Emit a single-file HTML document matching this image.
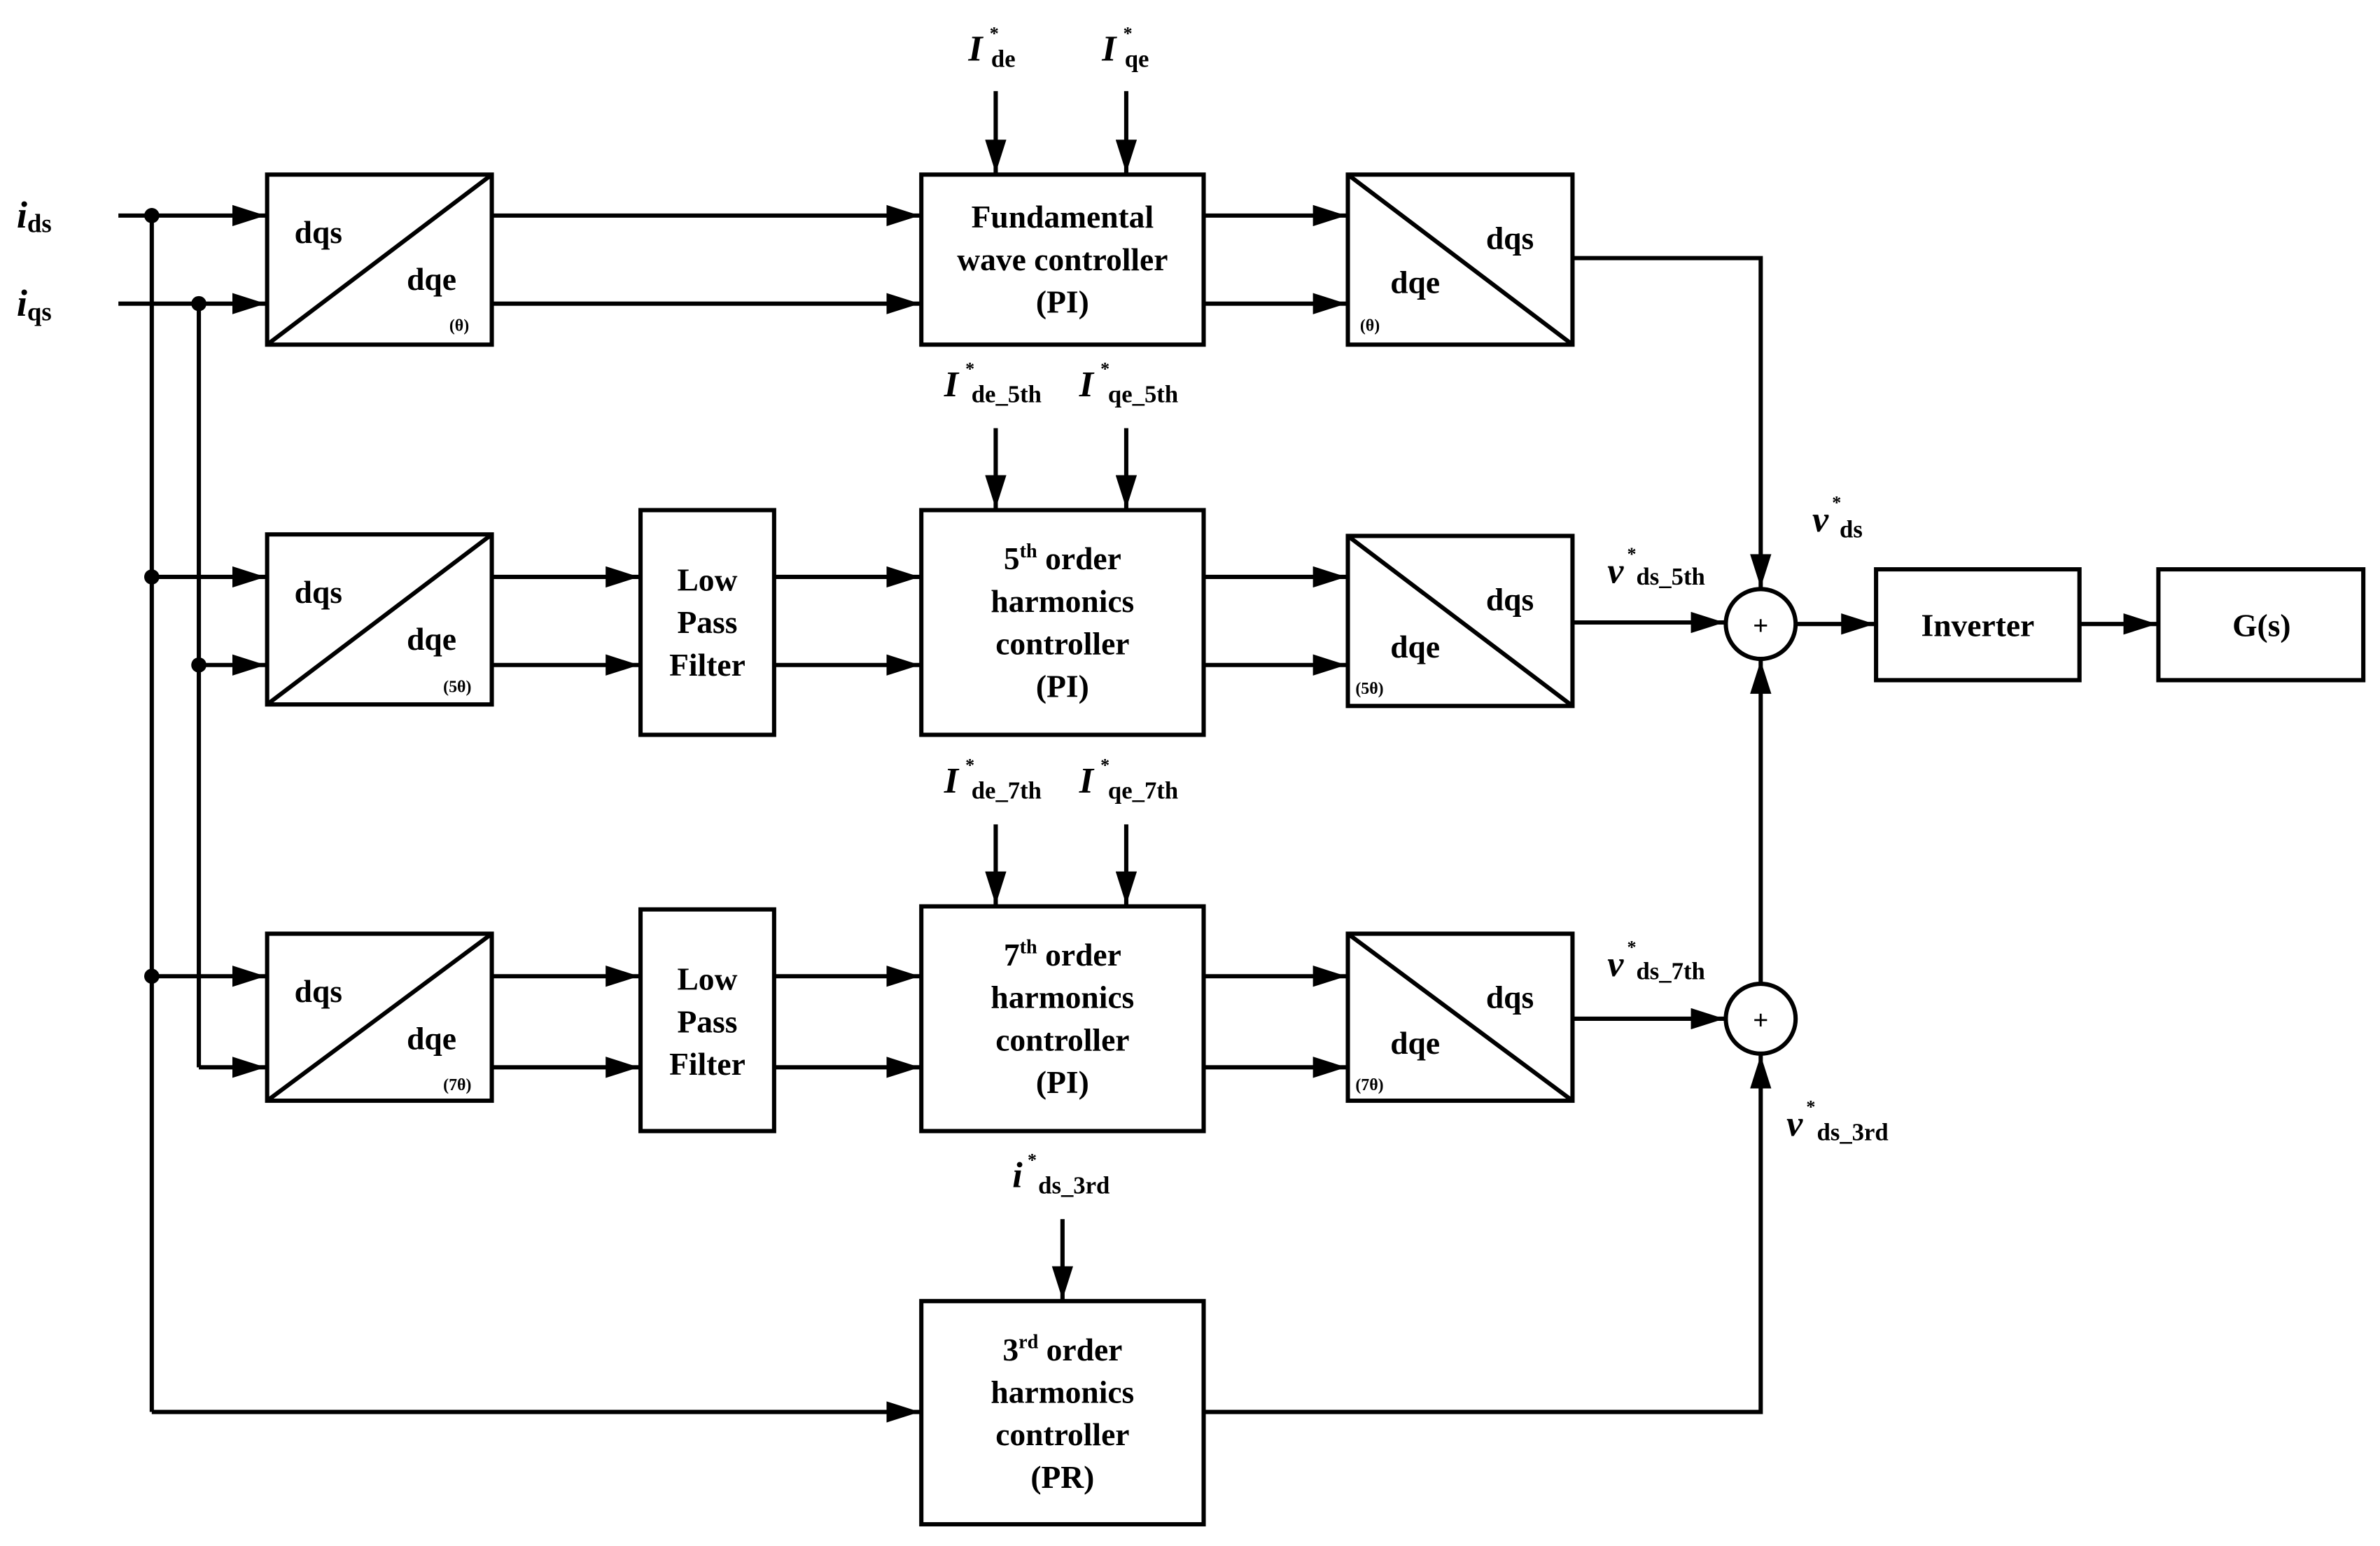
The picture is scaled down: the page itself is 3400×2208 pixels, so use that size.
<!DOCTYPE html>
<html><head><meta charset="utf-8"><style>
html,body{margin:0;padding:0;background:#fff;}
svg{display:block;}
text{font-family:"Liberation Serif",serif;font-weight:bold;fill:#000;}
</style></head><body>
<svg width="3400" height="2208" viewBox="0 0 1568 1018.3" preserveAspectRatio="none" xmlns="http://www.w3.org/2000/svg">
<defs>
<marker id="a" markerWidth="22" markerHeight="14" refX="22" refY="7" orient="auto" markerUnits="userSpaceOnUse">
<path d="M0,0 L22,7 L0,14 Z" fill="#000"/></marker>
</defs>
<g stroke="#000" stroke-width="2.8" fill="none">
<!-- inputs -->
<line x1="78" y1="142" x2="175" y2="142" marker-end="url(#a)"/>
<line x1="78" y1="200" x2="175" y2="200" marker-end="url(#a)"/>
<line x1="100" y1="142" x2="100" y2="930"/>
<line x1="131" y1="200" x2="131" y2="703"/>
<line x1="100" y1="380" x2="175" y2="380" marker-end="url(#a)"/>
<line x1="131" y1="438" x2="175" y2="438" marker-end="url(#a)"/>
<line x1="100" y1="643" x2="175" y2="643" marker-end="url(#a)"/>
<line x1="131" y1="703" x2="175" y2="703" marker-end="url(#a)"/>
<line x1="100" y1="930" x2="606" y2="930" marker-end="url(#a)"/>
<!-- row1 -->
<rect x="176" y="115" width="148" height="112"/><line x1="176" y1="227" x2="324" y2="115"/>
<line x1="324" y1="142" x2="606" y2="142" marker-end="url(#a)"/>
<line x1="324" y1="200" x2="606" y2="200" marker-end="url(#a)"/>
<rect x="607" y="115" width="186" height="112"/>
<line x1="793" y1="142" x2="887" y2="142" marker-end="url(#a)"/>
<line x1="793" y1="200" x2="887" y2="200" marker-end="url(#a)"/>
<rect x="888" y="115" width="148" height="112"/><line x1="888" y1="115" x2="1036" y2="227"/>
<polyline points="1036,170 1160,170 1160,387" marker-end="url(#a)"/>
<line x1="656" y1="60" x2="656" y2="114" marker-end="url(#a)"/>
<line x1="742" y1="60" x2="742" y2="114" marker-end="url(#a)"/>
<!-- row2 -->
<rect x="176" y="352" width="148" height="112"/><line x1="176" y1="464" x2="324" y2="352"/>
<line x1="324" y1="380" x2="421" y2="380" marker-end="url(#a)"/>
<line x1="324" y1="438" x2="421" y2="438" marker-end="url(#a)"/>
<rect x="422" y="336" width="88" height="148"/>
<line x1="510" y1="380" x2="606" y2="380" marker-end="url(#a)"/>
<line x1="510" y1="438" x2="606" y2="438" marker-end="url(#a)"/>
<rect x="607" y="336" width="186" height="148"/>
<line x1="793" y1="380" x2="887" y2="380" marker-end="url(#a)"/>
<line x1="793" y1="438" x2="887" y2="438" marker-end="url(#a)"/>
<rect x="888" y="353" width="148" height="112"/><line x1="888" y1="353" x2="1036" y2="465"/>
<line x1="1036" y1="410" x2="1136" y2="410" marker-end="url(#a)"/>
<line x1="656" y1="282" x2="656" y2="335" marker-end="url(#a)"/>
<line x1="742" y1="282" x2="742" y2="335" marker-end="url(#a)"/>
<circle cx="1160" cy="411" r="23"/>
<line x1="1183" y1="411" x2="1235" y2="411" marker-end="url(#a)"/>
<rect x="1236" y="375" width="134" height="73"/>
<line x1="1370" y1="411" x2="1421" y2="411" marker-end="url(#a)"/>
<rect x="1422" y="375" width="135" height="73"/>
<line x1="1160" y1="648" x2="1160" y2="435" marker-end="url(#a)"/>
<!-- row3 -->
<rect x="176" y="615" width="148" height="110"/><line x1="176" y1="725" x2="324" y2="615"/>
<line x1="324" y1="643" x2="421" y2="643" marker-end="url(#a)"/>
<line x1="324" y1="703" x2="421" y2="703" marker-end="url(#a)"/>
<rect x="422" y="599" width="88" height="146"/>
<line x1="510" y1="643" x2="606" y2="643" marker-end="url(#a)"/>
<line x1="510" y1="703" x2="606" y2="703" marker-end="url(#a)"/>
<rect x="607" y="597" width="186" height="148"/>
<line x1="793" y1="643" x2="887" y2="643" marker-end="url(#a)"/>
<line x1="793" y1="703" x2="887" y2="703" marker-end="url(#a)"/>
<rect x="888" y="615" width="148" height="110"/><line x1="888" y1="615" x2="1036" y2="725"/>
<line x1="1036" y1="671" x2="1136" y2="671" marker-end="url(#a)"/>
<line x1="656" y1="543" x2="656" y2="596" marker-end="url(#a)"/>
<line x1="742" y1="543" x2="742" y2="596" marker-end="url(#a)"/>
<circle cx="1160" cy="671" r="23"/>
<!-- row4 -->
<rect x="607" y="857" width="186" height="147"/>
<polyline points="793,930 1160,930 1160,695" marker-end="url(#a)"/>
<line x1="700" y1="803" x2="700" y2="856" marker-end="url(#a)"/>
</g>
<g fill="#000">
<circle cx="100" cy="142" r="5"/><circle cx="131" cy="200" r="5"/>
<circle cx="100" cy="380" r="5"/><circle cx="131" cy="438" r="5"/>
<circle cx="100" cy="643" r="5"/>
</g>
<g font-size="21">
<text x="11" y="150" font-style="italic" font-size="25">i<tspan font-style="normal" font-size="17" dy="3">ds</tspan></text>
<text x="11" y="208" font-style="italic" font-size="25">i<tspan font-style="normal" font-size="17" dy="3">qs</tspan></text>
<!-- converter labels -->
<text x="194" y="160">dqs</text><text x="268" y="191">dqe</text><text x="296" y="218" font-size="11">(θ)</text>
<text x="194" y="397">dqs</text><text x="268" y="428">dqe</text><text x="292" y="456" font-size="11">(5θ)</text>
<text x="194" y="660">dqs</text><text x="268" y="691">dqe</text><text x="292" y="718" font-size="11">(7θ)</text>
<text x="979" y="164">dqs</text><text x="916" y="193">dqe</text><text x="896" y="218" font-size="11">(θ)</text>
<text x="979" y="402">dqs</text><text x="916" y="433">dqe</text><text x="893" y="457" font-size="11">(5θ)</text>
<text x="979" y="664">dqs</text><text x="916" y="694">dqe</text><text x="893" y="718" font-size="11">(7θ)</text>
<!-- LPF -->
<text x="466" y="389" text-anchor="middle">Low</text><text x="466" y="417" text-anchor="middle">Pass</text><text x="466" y="445" text-anchor="middle">Filter</text>
<text x="466" y="652" text-anchor="middle">Low</text><text x="466" y="680" text-anchor="middle">Pass</text><text x="466" y="708" text-anchor="middle">Filter</text>
<!-- controllers -->
<text x="700" y="150" text-anchor="middle">Fundamental</text><text x="700" y="178" text-anchor="middle">wave controller</text><text x="700" y="206" text-anchor="middle">(PI)</text>
<text x="700" y="375" text-anchor="middle">5<tspan font-size="13" dy="-8">th</tspan><tspan dy="8"> order</tspan></text><text x="700" y="403" text-anchor="middle">harmonics</text><text x="700" y="431" text-anchor="middle">controller</text><text x="700" y="459" text-anchor="middle">(PI)</text>
<text x="700" y="636" text-anchor="middle">7<tspan font-size="13" dy="-8">th</tspan><tspan dy="8"> order</tspan></text><text x="700" y="664" text-anchor="middle">harmonics</text><text x="700" y="692" text-anchor="middle">controller</text><text x="700" y="720" text-anchor="middle">(PI)</text>
<text x="700" y="896" text-anchor="middle">3<tspan font-size="13" dy="-8">rd</tspan><tspan dy="8"> order</tspan></text><text x="700" y="924" text-anchor="middle">harmonics</text><text x="700" y="952" text-anchor="middle">controller</text><text x="700" y="980" text-anchor="middle">(PR)</text>
<text x="1303" y="419" text-anchor="middle">Inverter</text>
<text x="1490" y="419" text-anchor="middle">G(s)</text>
<text x="1160" y="418" text-anchor="middle" font-size="18">+</text>
<text x="1160" y="678" text-anchor="middle" font-size="18">+</text>
<!-- references -->
<text x="638" y="40" font-style="italic" font-size="24">I</text><text x="652" y="26" font-size="12">*</text><text x="653" y="44" font-size="16">de</text>
<text x="726" y="40" font-style="italic" font-size="24">I</text><text x="740" y="26" font-size="12">*</text><text x="741" y="44" font-size="16">qe</text>
<text x="622" y="261" font-style="italic" font-size="24">I</text><text x="636" y="247" font-size="12">*</text><text x="640" y="265" font-size="16">de_5th</text>
<text x="711" y="261" font-style="italic" font-size="24">I</text><text x="725" y="247" font-size="12">*</text><text x="730" y="265" font-size="16">qe_5th</text>
<text x="622" y="522" font-style="italic" font-size="24">I</text><text x="636" y="508" font-size="12">*</text><text x="640" y="526" font-size="16">de_7th</text>
<text x="711" y="522" font-style="italic" font-size="24">I</text><text x="725" y="508" font-size="12">*</text><text x="730" y="526" font-size="16">qe_7th</text>
<text x="667" y="782" font-style="italic" font-size="24">i</text><text x="677" y="768" font-size="12">*</text><text x="684" y="786" font-size="16">ds_3rd</text>
<text x="1194" y="350" font-style="italic" font-size="24">v</text><text x="1207" y="335" font-size="12">*</text><text x="1212" y="354" font-size="16">ds</text>
<text x="1059" y="384" font-style="italic" font-size="24">v</text><text x="1072" y="369" font-size="12">*</text><text x="1078" y="385" font-size="16">ds_5th</text>
<text x="1059" y="643" font-style="italic" font-size="24">v</text><text x="1072" y="628" font-size="12">*</text><text x="1078" y="645" font-size="16">ds_7th</text>
<text x="1177" y="748" font-style="italic" font-size="24">v</text><text x="1190" y="733" font-size="12">*</text><text x="1197" y="751" font-size="16">ds_3rd</text>
</g>
</svg>
</body></html>
